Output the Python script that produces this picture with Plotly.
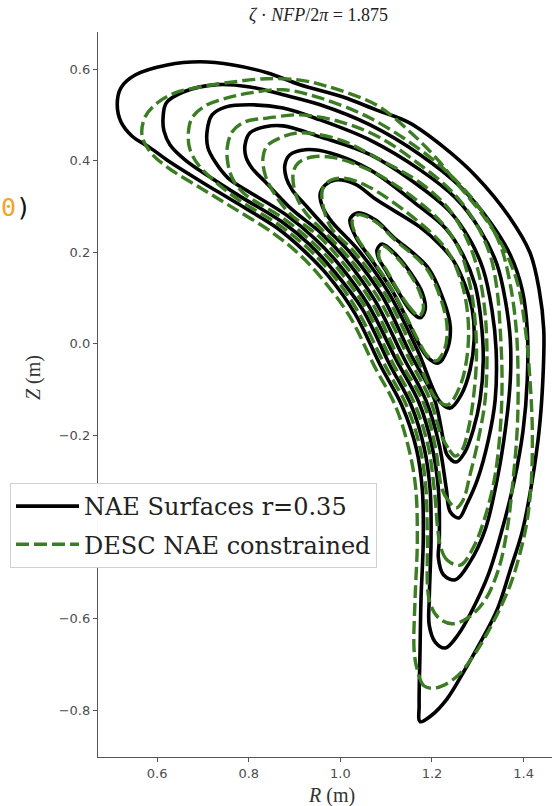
import plotly.graph_objects as go

# ---- NAE (black) flux surfaces, innermost (1) to outermost (8): R (m), Z (m)
nae1_R = [1.080, 1.091, 1.124, 1.152, 1.179, 1.185, 1.174, 1.152, 1.124, 1.098, 1.083]
nae1_Z = [0.205, 0.218, 0.192, 0.157, 0.111, 0.074, 0.057, 0.074, 0.118, 0.162, 0.188]

nae2_R = [1.021, 1.037, 1.076, 1.115, 1.190, 1.225, 1.240, 1.233, 1.214, 1.192, 1.176, 1.144, 1.111, 1.065, 1.035]
nae2_Z = [0.271, 0.286, 0.271, 0.234, 0.168, 0.096, 0.037, -0.013, -0.042, -0.031, -0.009, 0.057, 0.120, 0.188, 0.231]

nae3_R = [0.956, 0.967, 0.989, 1.032, 1.080, 1.174, 1.218, 1.246, 1.272, 1.288, 1.292, 1.283, 1.264, 1.240, 1.218, 1.168, 1.104, 1.039, 0.982, 0.962]
nae3_Z = [0.328, 0.347, 0.358, 0.349, 0.314, 0.255, 0.216, 0.183, 0.129, 0.074, 0.009, -0.057, -0.111, -0.140, -0.127, -0.013, 0.114, 0.205, 0.266, 0.297]

nae4_R = [0.879, 0.890, 0.923, 0.978, 1.065, 1.174, 1.229, 1.268, 1.294, 1.307, 1.312, 1.305, 1.290, 1.272, 1.253, 1.233, 1.225, 1.205, 1.152, 1.091, 1.026, 0.969, 0.923, 0.895, 0.882]
nae4_Z = [0.391, 0.413, 0.424, 0.417, 0.380, 0.299, 0.253, 0.194, 0.129, 0.052, -0.035, -0.122, -0.188, -0.236, -0.258, -0.242, -0.210, -0.120, -0.020, 0.105, 0.194, 0.253, 0.304, 0.336, 0.362]

nae5_R = [0.792, 0.803, 0.836, 0.875, 0.956, 1.065, 1.174, 1.240, 1.283, 1.312, 1.331, 1.340, 1.338, 1.323, 1.299, 1.275, 1.259, 1.240, 1.231, 1.216, 1.187, 1.137, 1.076, 1.013, 0.958, 0.895, 0.836, 0.807, 0.794]
nae5_Z = [0.435, 0.461, 0.474, 0.476, 0.452, 0.413, 0.343, 0.288, 0.227, 0.162, 0.074, -0.013, -0.122, -0.210, -0.297, -0.352, -0.380, -0.367, -0.314, -0.221, -0.124, -0.028, 0.094, 0.183, 0.242, 0.293, 0.354, 0.384, 0.408]

nae6_R = [0.709, 0.720, 0.749, 0.803, 0.875, 0.956, 1.065, 1.174, 1.251, 1.305, 1.342, 1.360, 1.371, 1.371, 1.360, 1.342, 1.316, 1.283, 1.251, 1.225, 1.214, 1.216, 1.214, 1.200, 1.172, 1.122, 1.061, 1.000, 0.945, 0.884, 0.794, 0.755, 0.727, 0.711]
nae6_Z = [0.463, 0.500, 0.517, 0.522, 0.515, 0.489, 0.445, 0.380, 0.319, 0.249, 0.173, 0.096, 0.009, -0.079, -0.188, -0.297, -0.406, -0.476, -0.515, -0.504, -0.467, -0.428, -0.317, -0.223, -0.129, -0.035, 0.085, 0.170, 0.229, 0.280, 0.336, 0.362, 0.397, 0.428]

nae7_R = [0.613, 0.620, 0.657, 0.731, 0.803, 0.875, 0.956, 1.065, 1.174, 1.262, 1.327, 1.371, 1.397, 1.408, 1.408, 1.399, 1.380, 1.353, 1.323, 1.286, 1.257, 1.229, 1.207, 1.194, 1.194, 1.198, 1.196, 1.183, 1.155, 1.107, 1.048, 0.986, 0.934, 0.873, 0.783, 0.711, 0.661, 0.628, 0.615]
nae7_Z = [0.493, 0.526, 0.550, 0.566, 0.561, 0.544, 0.522, 0.478, 0.413, 0.343, 0.266, 0.194, 0.118, 0.031, -0.079, -0.188, -0.297, -0.406, -0.504, -0.585, -0.635, -0.664, -0.651, -0.614, -0.559, -0.428, -0.319, -0.227, -0.135, -0.044, 0.076, 0.159, 0.216, 0.266, 0.321, 0.367, 0.402, 0.435, 0.465]

nae8_R = [0.513, 0.521, 0.552, 0.622, 0.694, 0.766, 0.840, 0.912, 1.006, 1.078, 1.150, 1.225, 1.297, 1.369, 1.414, 1.434, 1.444, 1.442, 1.434, 1.419, 1.398, 1.371, 1.342, 1.305, 1.268, 1.233, 1.198, 1.174, 1.172, 1.174, 1.176, 1.181, 1.179, 1.166, 1.135, 1.087, 1.032, 0.973, 0.921, 0.862, 0.773, 0.700, 0.628, 0.585, 0.545, 0.521]
nae8_Z = [0.522, 0.559, 0.587, 0.609, 0.616, 0.609, 0.592, 0.566, 0.539, 0.511, 0.483, 0.430, 0.365, 0.277, 0.199, 0.118, 0.031, -0.079, -0.188, -0.297, -0.406, -0.493, -0.581, -0.653, -0.718, -0.775, -0.812, -0.825, -0.788, -0.668, -0.559, -0.428, -0.319, -0.229, -0.136, -0.046, 0.066, 0.149, 0.203, 0.253, 0.308, 0.352, 0.397, 0.428, 0.454, 0.485]

# ---- DESC (green dashed) surfaces, innermost (1) to outermost (8)
desc1_R = [1.085, 1.093, 1.124, 1.150, 1.174, 1.181, 1.172, 1.152, 1.124, 1.100, 1.085]
desc1_Z = [0.203, 0.214, 0.188, 0.155, 0.111, 0.076, 0.061, 0.079, 0.120, 0.162, 0.186]

desc2_R = [1.026, 1.039, 1.078, 1.117, 1.187, 1.220, 1.233, 1.227, 1.209, 1.190, 1.176, 1.144, 1.111, 1.067, 1.037]
desc2_Z = [0.269, 0.282, 0.266, 0.229, 0.166, 0.096, 0.037, -0.013, -0.037, -0.026, -0.004, 0.059, 0.122, 0.188, 0.231]

desc3_R = [0.960, 0.971, 1.000, 1.054, 1.174, 1.235, 1.266, 1.279, 1.277, 1.262, 1.235, 1.211, 1.161, 1.098, 1.032, 0.976]
desc3_Z = [0.332, 0.352, 0.362, 0.347, 0.264, 0.201, 0.129, 0.052, -0.024, -0.090, -0.133, -0.122, -0.017, 0.109, 0.199, 0.260]

desc4_R = [0.897, 0.908, 0.938, 0.989, 1.076, 1.174, 1.225, 1.262, 1.283, 1.294, 1.297, 1.290, 1.279, 1.266, 1.251, 1.235, 1.220, 1.196, 1.146, 1.083, 1.019, 0.962, 0.923, 0.903]
desc4_Z = [0.373, 0.395, 0.408, 0.406, 0.373, 0.308, 0.260, 0.201, 0.129, 0.052, -0.035, -0.122, -0.188, -0.231, -0.245, -0.227, -0.199, -0.122, -0.024, 0.100, 0.188, 0.247, 0.288, 0.325]

desc5_R = [0.831, 0.840, 0.869, 0.912, 1.000, 1.087, 1.174, 1.233, 1.272, 1.299, 1.314, 1.320, 1.316, 1.301, 1.283, 1.268, 1.253, 1.235, 1.222, 1.207, 1.181, 1.128, 1.069, 1.006, 0.952, 0.888, 0.851, 0.836]
desc5_Z = [0.406, 0.432, 0.450, 0.461, 0.445, 0.402, 0.352, 0.299, 0.238, 0.166, 0.085, -0.013, -0.122, -0.210, -0.286, -0.341, -0.358, -0.341, -0.317, -0.223, -0.127, -0.033, 0.090, 0.177, 0.236, 0.286, 0.336, 0.369]

desc6_R = [0.753, 0.764, 0.792, 0.840, 0.912, 1.000, 1.087, 1.174, 1.244, 1.294, 1.327, 1.342, 1.349, 1.353, 1.349, 1.336, 1.314, 1.290, 1.262, 1.233, 1.218, 1.205, 1.192, 1.163, 1.113, 1.054, 0.993, 0.938, 0.877, 0.788, 0.766, 0.755]
desc6_Z = [0.428, 0.463, 0.485, 0.493, 0.500, 0.485, 0.450, 0.391, 0.332, 0.266, 0.194, 0.118, 0.031, -0.079, -0.188, -0.297, -0.384, -0.445, -0.483, -0.472, -0.439, -0.317, -0.225, -0.133, -0.039, 0.081, 0.166, 0.223, 0.273, 0.330, 0.358, 0.391]

desc7_R = [0.668, 0.676, 0.705, 0.753, 0.803, 0.875, 0.956, 1.065, 1.174, 1.251, 1.310, 1.349, 1.371, 1.384, 1.388, 1.386, 1.377, 1.364, 1.345, 1.316, 1.279, 1.244, 1.214, 1.194, 1.190, 1.187, 1.174, 1.146, 1.098, 1.039, 0.980, 0.928, 0.866, 0.779, 0.727, 0.690, 0.672]
desc7_Z = [0.456, 0.493, 0.520, 0.537, 0.548, 0.555, 0.537, 0.493, 0.424, 0.358, 0.288, 0.216, 0.129, 0.031, -0.079, -0.188, -0.297, -0.406, -0.493, -0.559, -0.598, -0.611, -0.598, -0.559, -0.428, -0.319, -0.227, -0.138, -0.048, 0.070, 0.155, 0.210, 0.260, 0.314, 0.354, 0.391, 0.424]

desc8_R = [0.567, 0.574, 0.600, 0.639, 0.694, 0.766, 0.840, 0.912, 0.969, 1.078, 1.150, 1.209, 1.259, 1.312, 1.355, 1.386, 1.404, 1.414, 1.419, 1.417, 1.408, 1.393, 1.371, 1.334, 1.292, 1.251, 1.209, 1.183, 1.168, 1.161, 1.163, 1.168, 1.164, 1.148, 1.120, 1.074, 1.021, 0.962, 0.912, 0.853, 0.766, 0.694, 0.622, 0.585]
desc8_Z = [0.456, 0.496, 0.526, 0.548, 0.561, 0.572, 0.579, 0.576, 0.563, 0.522, 0.465, 0.406, 0.345, 0.280, 0.212, 0.135, 0.031, -0.079, -0.188, -0.297, -0.384, -0.454, -0.526, -0.607, -0.679, -0.729, -0.751, -0.747, -0.712, -0.668, -0.559, -0.428, -0.310, -0.223, -0.135, -0.048, 0.059, 0.140, 0.194, 0.242, 0.297, 0.341, 0.386, 0.419]

x_ticks = [0.6, 0.8, 1.0, 1.2, 1.4]
y_ticks = [-0.8, -0.6, -0.2, 0.0, 0.2, 0.4, 0.6]   # -0.4 sits under the legend

nae_surfaces = [(nae1_R, nae1_Z), (nae2_R, nae2_Z), (nae3_R, nae3_Z), (nae4_R, nae4_Z),
                (nae5_R, nae5_Z), (nae6_R, nae6_Z), (nae7_R, nae7_Z), (nae8_R, nae8_Z)]
desc_surfaces = [(desc1_R, desc1_Z), (desc2_R, desc2_Z), (desc3_R, desc3_Z), (desc4_R, desc4_Z),
                 (desc5_R, desc5_Z), (desc6_R, desc6_Z), (desc7_R, desc7_Z), (desc8_R, desc8_Z)]

BLACK = "#000000"
GREEN = "#3b7d23"
SERIF = "DejaVu Serif"
MATH = "Liberation Serif"
TICKC = "#4d4d4d"

fig = go.Figure()


def closed(R, Z):
    # start/close the loop at its lowest point (a sharp tip) so the seam is hidden
    k = min(range(len(Z)), key=lambda i: Z[i])
    r = list(R[k:]) + list(R[:k])
    z = list(Z[k:]) + list(Z[:k])
    return r + [r[0]], z + [z[0]]


for i, (R, Z) in enumerate(nae_surfaces):
    xr, zr = closed(R, Z)
    fig.add_trace(go.Scatter(
        x=xr, y=zr, mode="lines",
        line=dict(color=BLACK, width=3.6, shape="spline", smoothing=1.0),
        name="NAE Surfaces r=0.35", legendgroup="nae", showlegend=(i == 0),
        hoverinfo="skip"))

for i, (R, Z) in enumerate(desc_surfaces):
    xr, zr = closed(R, Z)
    fig.add_trace(go.Scatter(
        x=xr, y=zr, mode="lines",
        line=dict(color=GREEN, width=3.4, dash="13px,5px", shape="spline", smoothing=1.0),
        name="DESC NAE constrained", legendgroup="desc", showlegend=(i == 0),
        hoverinfo="skip"))

W, H = 552, 806
L, Rm, T, B = 98, 0, 32, 49

fig.update_layout(
    width=W, height=H,
    margin=dict(l=L, r=Rm, t=T, b=B, pad=0),
    paper_bgcolor="white", plot_bgcolor="white",
    showlegend=True,
    legend=dict(
        x=(10 - L) / (W - L - Rm), y=(H - B - 483) / (H - T - B),
        xanchor="left", yanchor="top",
        bgcolor="rgba(255,255,255,0.97)", bordercolor="#d0d0d0", borderwidth=1,
        font=dict(family=SERIF, size=24, color="#222222"),
        itemwidth=63, tracegroupgap=4,
    ),
    xaxis=dict(
        range=[0.471, 1.462], tickvals=x_ticks, tickformat=".1f",
        showgrid=False, zeroline=False, showline=True, linecolor="#555555", linewidth=1.3,
        ticks="outside", ticklen=4, tickcolor="#555555", tickwidth=1.2,
        tickfont=dict(family="DejaVu Sans", size=13, color=TICKC),
    ),
    yaxis=dict(
        range=[-0.902, 0.681], tickvals=y_ticks, tickformat=".1f",
        showgrid=False, zeroline=False, showline=True, linecolor="#555555", linewidth=1.3,
        ticks="outside", ticklen=4, tickcolor="#555555", tickwidth=1.2,
        tickfont=dict(family="DejaVu Sans", size=13, color=TICKC),
    ),
)

pw = W - L - Rm
ph = H - T - B


def px(xp):
    return (xp - L) / pw


def py(yp):
    return (H - B - yp) / ph


fig.add_annotation(
    text="<i>ζ</i> · <i>NFP</i>/2<i>π</i> = 1.875",
    x=px(318), y=py(15), xref="paper", yref="paper", showarrow=False,
    xanchor="center", yanchor="middle",
    font=dict(family=MATH, size=18, color="#222222"))
fig.add_annotation(
    text="<i>R</i> (m)",
    x=px(331), y=py(795), xref="paper", yref="paper", showarrow=False,
    xanchor="center", yanchor="middle",
    font=dict(family=MATH, size=20, color="#333333"))
fig.add_annotation(
    text="<i>Z</i> (m)",
    x=px(33), y=py(378), xref="paper", yref="paper", showarrow=False,
    xanchor="center", yanchor="middle", textangle=-90,
    font=dict(family=MATH, size=20, color="#333333"))
fig.add_annotation(
    text="<span style='color:#f5a328'>0</span>)",
    x=px(-1), y=py(207), xref="paper", yref="paper", showarrow=False,
    xanchor="left", yanchor="middle",
    font=dict(family="DejaVu Sans Mono", size=25, color="#111111"))

fig.write_html("out.html")
